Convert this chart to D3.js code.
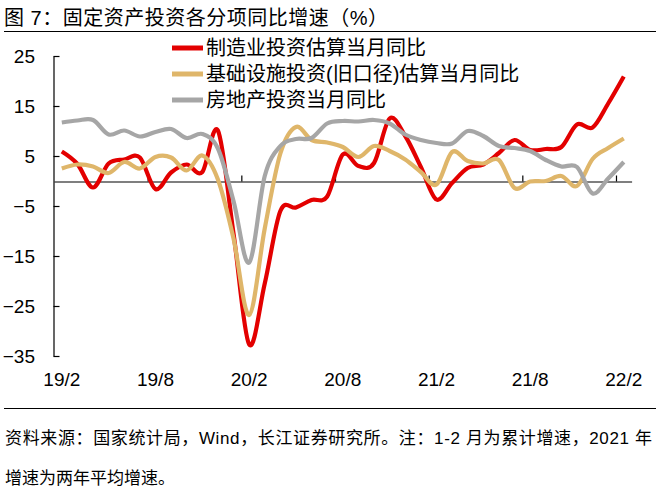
<!DOCTYPE html>
<html>
<head>
<meta charset="utf-8">
<script src="https://cdn.jsdelivr.net/npm/d3@7"></script>
<style>
  body { margin: 0; background: #fff; }
  svg { display: block; }
</style>
</head>
<body>
<svg id="chart" width="666" height="491"></svg>
<script>
// months on the category axis (Excel style, ticks between categories)
const months = ["19/2","19/3","19/4","19/5","19/6","19/7","19/8","19/9","19/10","19/11","19/12",
  "20/1","20/2","20/3","20/4","20/5","20/6","20/7","20/8","20/9","20/10","20/11","20/12",
  "21/1","21/2","21/3","21/4","21/5","21/6","21/7","21/8","21/9","21/10","21/11","21/12",
  "22/1","22/2"];
const tickLabels = ["19/2","19/8","20/2","20/8","21/2","21/8","22/2"];
const yTicks = [-35, -25, -15, -5, 5, 15, 25];

const manufacturing = [5.9, 3.4, -1.3, 3.5, 4.3, 4.7, -1.6, 1.7, 3.3, 1.8, 10.1, -10.5, -32.7,
  -20.5, -6.0, -5.3, -3.8, -3.1, 5.3, 3.0, 3.6, 12.5, 9.0, 2.8, -3.7, -0.4, 2.6, 3.3, 5.6, 8.2,
  6.2, 6.4, 6.8, 11.3, 10.7, 15.5, 20.9];
const infrastructure = [2.5, 3.3, 2.9, 1.6, 3.8, 2.5, 4.8, 4.7, 2.1, 5.1, 0.3, -11.5, -26.8,
  -9.5, 5.5, 10.8, 8.2, 7.7, 6.8, 4.8, 7.0, 6.0, 4.3, 1.8, -0.7, 5.8, 4.0, 3.5, 4.2, -1.4,
  -0.1, 0.0, 1.0, -1.0, 4.4, 6.6, 8.5];
const realEstate = [11.7, 12.1, 12.2, 9.3, 10.1, 8.9, 9.8, 10.4, 8.6, 9.4, 6.5, -4.0, -16.3,
  1.0, 7.0, 8.4, 8.6, 11.5, 12.0, 11.9, 12.2, 11.5, 9.3, 8.2, 7.6, 7.5, 10.0, 9.0, 7.0, 6.6,
  6.0, 4.2, 2.9, 2.8, -2.5, 0.5, 3.8];

const seriesNames = ["制造业投资估算当月同比", "基础设施投资(旧口径)估算当月同比", "房地产投资当月同比"];
const seriesColors = ["#E30000", "#DFB66A", "#A6A6A6"];

const title = "图 7：固定资产投资各分项同比增速（%）";
const note1 = "资料来源：国家统计局，Wind，长江证券研究所。注：1-2 月为累计增速，2021 年";
const note2 = "增速为两年平均增速。";

const width = 666, height = 491;
const margin = {top: 56, right: 34.4, bottom: 135, left: 54};
const numFont = "'Liberation Sans', Arial, sans-serif";
const cjkFont = "'Liberation Sans', 'Noto Sans CJK SC', sans-serif";

const svg = d3.select("#chart");

const x = d3.scaleBand(months, [margin.left, width - margin.right]);
const xEdge = d3.scaleLinear([0, months.length], [margin.left, width - margin.right]);
const y = d3.scaleLinear([-35, 25], [height - margin.bottom, margin.top]);
const cx = (d, i) => x(months[i]) + x.bandwidth() / 2;

// title + rules
svg.append("text")
    .attr("x", 4).attr("y", 25)
    .attr("font-family", cjkFont).attr("font-size", 20)
    .attr("fill", "#000")
    .attr("textLength", 384).attr("lengthAdjust", "spacing")
    .text(title);
svg.append("line")
    .attr("x1", 4).attr("x2", 656).attr("y1", 31.5).attr("y2", 31.5)
    .attr("stroke", "#000").attr("stroke-width", 1.2);
svg.append("line")
    .attr("x1", 4).attr("x2", 656).attr("y1", 408.5).attr("y2", 408.5)
    .attr("stroke", "#000").attr("stroke-width", 1.2);

// y axis, ticks pointing into the plot
svg.append("g")
    .attr("transform", `translate(${margin.left - 0.5},0)`)
    .call(d3.axisLeft(y).tickValues(yTicks).tickSizeInner(-6).tickSizeOuter(0).tickPadding(18.5))
    .call(g => g.selectAll("path,line").attr("stroke", "#000").attr("stroke-width", 1.2))
    .call(g => g.selectAll("text")
        .attr("font-family", numFont).attr("font-size", 19).attr("fill", "#000"));

// zero line with upward ticks every 6 months
svg.append("g")
    .attr("transform", `translate(0,${y(0) + 0.5})`)
    .call(d3.axisTop(xEdge).tickValues([6, 12, 18, 24, 30, 36]).tickSize(6).tickSizeOuter(0).tickFormat(""))
    .call(g => g.selectAll("path,line").attr("stroke", "#000").attr("stroke-width", 1.2));

svg.append("g")
  .selectAll("text")
  .data(tickLabels)
  .join("text")
    .attr("x", d => x(d) + x.bandwidth() / 2)
    .attr("y", 386)
    .attr("text-anchor", "middle")
    .attr("font-family", numFont).attr("font-size", 19).attr("fill", "#000")
    .text(d => d);

// series lines: red, tan, then grey on top
const line = d3.line()
    .x(cx)
    .y(d => y(d))
    .curve(d3.curveCardinal.tension(0));

[manufacturing, infrastructure, realEstate].forEach((vals, k) => {
  svg.append("path")
      .datum(vals)
      .attr("fill", "none")
      .attr("stroke", seriesColors[k])
      .attr("stroke-width", 4.2)
      .attr("stroke-linejoin", "round")
      .attr("d", line);
});

// legend
const legend = svg.append("g")
  .selectAll("g")
  .data(seriesNames)
  .join("g")
    .attr("transform", (d, i) => `translate(172,${48 + i * 26})`);
legend.append("line")
    .attr("x1", 0).attr("x2", 31)
    .attr("stroke", (d, i) => seriesColors[i])
    .attr("stroke-width", 5);
legend.append("text")
    .attr("x", 34).attr("y", 7)
    .attr("font-family", cjkFont).attr("font-size", 20).attr("fill", "#000")
    .text(d => d);

// source note
svg.append("text")
    .attr("x", 5).attr("y", 444)
    .attr("font-family", cjkFont).attr("font-size", 17).attr("fill", "#000")
    .attr("textLength", 647).attr("lengthAdjust", "spacing")
    .text(note1);
svg.append("text")
    .attr("x", 5).attr("y", 484)
    .attr("font-family", cjkFont).attr("font-size", 17).attr("fill", "#000")
    .text(note2);
</script>
</body>
</html>
